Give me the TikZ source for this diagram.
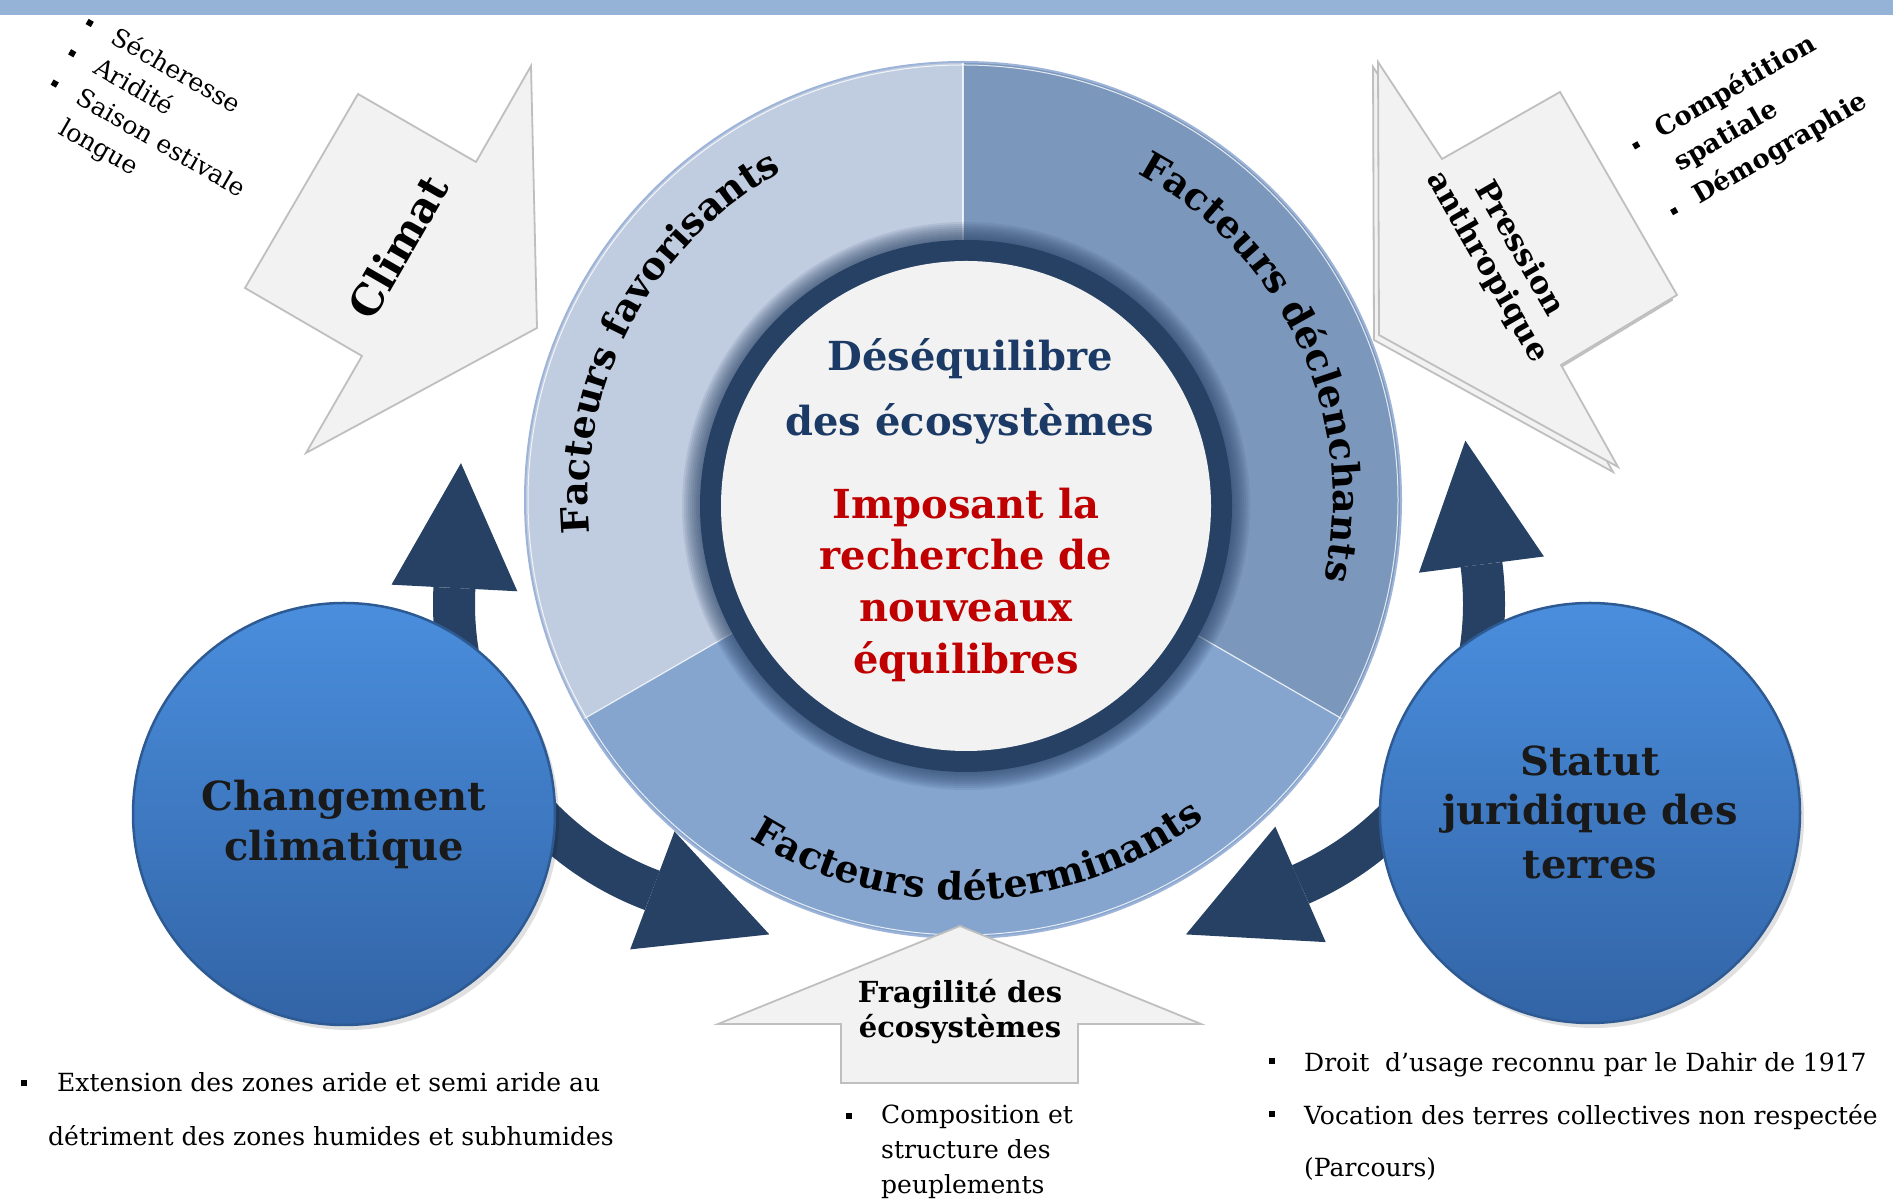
\documentclass[tikz,border=0pt]{standalone}
\usepackage{fontspec}
\setmainfont{DejaVu Serif}
\usetikzlibrary{calc,decorations.text}
\definecolor{topbar}{HTML}{95B3D7}
\definecolor{secA}{HTML}{C0CCE0}
\definecolor{secB}{HTML}{7B97BC}
\definecolor{secC}{HTML}{85A5CF}
\definecolor{ringnavy}{HTML}{264164}
\definecolor{lightgr}{HTML}{F2F2F2}
\definecolor{edgeblue}{HTML}{9DB4D8}
\definecolor{txtblue}{HTML}{1B3A66}
\definecolor{txtred}{HTML}{C00000}
\definecolor{balltop}{HTML}{4A8EDD}
\definecolor{ballbot}{HTML}{3264A6}
\definecolor{balledge}{HTML}{2E5A94}
\definecolor{grayline}{HTML}{BFBFBF}
\newcommand\fsz[2]{\fontsize{#1}{#2}\selectfont}
\newcommand\sqb{\rule{6pt}{6pt}}
\newcommand\sqr[1]{\rule[#1]{6pt}{6pt}}
\begin{document}
\begin{tikzpicture}[x=1pt,y=1pt,
  grayarrow/.style={fill=lightgr,draw=grayline,line width=1.8pt,line join=miter},
  navyfill/.style={fill=ringnavy},
  navyshaft/.style={draw=ringnavy,line width=42pt},
  ball/.style={circle,inner sep=0pt,top color=balltop,bottom color=ballbot,draw=balledge,line width=2.5pt},
  balltxt/.style={font=\bfseries\fsz{40}{48},text=black!90,anchor=base,inner sep=0pt},
  plain/.style={font=\fsz{25}{30},anchor=mid west,inner sep=0pt},
  sect/.style={decorate,decoration={text along path,text align=center,text={#1}}}
]
\useasboundingbox (0,0) rectangle (1893,1201);
\fill[white] (0,0) rectangle (1893,1201);
\fill[topbar] (0,1186) rectangle (1893,1201);

% ---------- Climat arrow ----------
\path[grayarrow] (358,1107) -- (476,1039) -- (531,1135) -- (537,873) -- (306,748) -- (362,845) -- (245,913) -- cycle;
\node[font=\bfseries\fsz{42}{48},rotate=60,inner sep=0pt] (climat) at (398,954) {Climat};
\node[rotate=-30,anchor=base west,inner sep=0pt,font=\fsz{25}{35}] (clist) at (83.7,1174)
  {\begin{tabular}[t]{@{}l@{\hspace{24pt}}l@{}}\sqr{3.5pt}&Sécheresse\\ \sqr{3.5pt}&Aridité\\ \sqr{3.5pt}&Saison estivale\\ &longue\end{tabular}};

% ---------- Pression arrow ----------
\path[grayarrow] (1373,1134) -- (1437,1037) -- (1555,1104) -- (1672,901) -- (1556,831) -- (1613,729) -- (1374,861) -- cycle;
\path[grayarrow] (1378,1139) -- (1442,1042) -- (1560,1109) -- (1677,906) -- (1561,836) -- (1618,734) -- (1379,866) -- cycle;
\node[font=\bfseries\fsz{31}{37},rotate=-60,align=center,inner sep=0pt] (press) at (1503,943) {Pression\\anthropique};
\node[rotate=30,anchor=base west,inner sep=0pt,font=\bfseries\fsz{26}{38}] (plist) at (1636.9,1048)
  {\begin{tabular}[t]{@{}l@{\hspace{22pt}}l@{}}\sqr{4pt}&Compétition\\ &spatiale\\ \sqr{4pt}&Démographie\end{tabular}};

% ---------- main circle ----------
\node[circle,minimum size=876pt,inner sep=0pt] (main) at (963,701) {};
\fill[secA] (main.center) -- ++(90:438) arc[start angle=90,end angle=210,radius=438pt] -- cycle;
\fill[secB] (main.center) -- ++(-30:438) arc[start angle=-30,end angle=90,radius=438pt] -- cycle;
\fill[secC] (main.center) -- ++(210:438) arc[start angle=210,end angle=330,radius=438pt] -- cycle;
\foreach \a in {90,210,330} \draw[white,line width=1.2pt,opacity=.8] (main.center) -- ++(\a:438);
\draw[edgeblue,line width=2pt] (main.center) circle[radius=438pt];
\draw[white,line width=1pt,opacity=.8] (main.center) circle[radius=435pt];

% sector labels
\path[sect={|\bfseries\fsz{38}{40}|Facteurs favorisants}] ($(main.center)+(212:375)$) arc[start angle=212,end angle=92,radius=375pt];
\path[sect={|\bfseries\fsz{38}{40}|Facteurs déclenchants}] ($(main.center)+(84.7:370)$) arc[start angle=84.7,end angle=-35.3,radius=370pt];
\path[sect={|\bfseries\fsz{38}{40}|Facteurs déterminants}] ($(main.center)+(212.5:400)$) arc[start angle=212.5,end angle=332.5,radius=400pt];

% inner ring
\coordinate (ic) at (966,695);
\foreach \r in {268,270,...,284} \fill[ringnavy,opacity=.1] (ic) circle[radius=\r pt];
\fill[ringnavy] (ic) circle[radius=266pt];
\node[circle,fill=lightgr,minimum size=490pt,inner sep=0pt] (core) at (ic) {};
\node[font=\bfseries\fsz{40}{48},text=txtblue,anchor=base,inner sep=0pt] (t1) at (970,830) {Déséquilibre};
\node[font=\bfseries\fsz{40}{48},text=txtblue,anchor=base,inner sep=0pt] (t2) at (970,765) {des écosystèmes};
\node[font=\bfseries\fsz{40}{48},text=txtred,anchor=base,inner sep=0pt] (t3) at (966,682) {Imposant la};
\node[font=\bfseries\fsz{40}{48},text=txtred,anchor=base,inner sep=0pt] (t4) at (966,631) {recherche de};
\node[font=\bfseries\fsz{40}{48},text=txtred,anchor=base,inner sep=0pt] (t5) at (966,579) {nouveaux};
\node[font=\bfseries\fsz{40}{48},text=txtred,anchor=base,inner sep=0pt] (t6) at (966,527.5) {équilibres};

% ---------- Fragilité arrow ----------
\path[grayarrow] (960,275) -- (1201,177) -- (1078,177) -- (1078,118) -- (841,118) -- (841,177) -- (718,177) -- cycle;
\node[font=\bfseries\fsz{29}{35},align=center,inner sep=0pt] (frag) at (960,189) {Fragilité des\\écosystèmes};

% ---------- navy curved arrows ----------
\coordinate (CL) at (760,597);
\coordinate (CR) at (1178,597);
\draw[navyshaft] ($(CL)+(177:306)$) arc[start angle=177,end angle=249.4,radius=306pt];
\fill[navyfill] ($(CL)+(177:243)$) -- ($(CL)+(177:369)$) -- ($(CL)+(177:306)+(87:125)$) -- cycle;
\fill[navyfill] ($(CL)+(249.4:243)$) -- ($(CL)+(249.4:369)$) -- ($(CL)+(249.4:306)+(339.4:125)$) -- cycle;
\draw[navyshaft] ($(CR)+(7.4:306)$) arc[start angle=7.4,end angle=-66.4,radius=306pt];
\fill[navyfill] ($(CR)+(7.4:243)$) -- ($(CR)+(7.4:369)$) -- ($(CR)+(7.4:306)+(97.4:125)$) -- cycle;
\fill[navyfill] ($(CR)+(-66.4:243)$) -- ($(CR)+(-66.4:369)$) -- ($(CR)+(-66.4:306)+(-156.4:125)$) -- cycle;

% ---------- blue balls ----------
\fill[black,opacity=.12] (348,382) circle[radius=211pt];
\fill[black,opacity=.12] (1594,383) circle[radius=210pt];
\node[ball,minimum size=422pt] (cc) at (344,387) {};
\node[ball,minimum size=420pt] (sj) at (1590,388) {};
\node[balltxt] (cc1) at (344,390) {Changement};
\node[balltxt] (cc2) at (344,340) {climatique};
\node[balltxt] (sj1) at (1590,425) {Statut};
\node[balltxt] (sj2) at (1590,376) {juridique des};
\node[balltxt] (sj3) at (1590,322.3) {terres};

% ---------- bottom texts ----------
\node[inner sep=0pt] (b6) at (24,118) {\sqb};
\node[plain] (e1) at (57,112) {Extension des zones aride et semi aride au};
\node[plain] (e2) at (48,58) {détriment des zones humides et subhumides};
\node[inner sep=0pt] (b7) at (849,85) {\sqb};
\node[plain,align=left,anchor=north west,font=\fsz{25}{35}] (comp) at (881,96) {Composition et\\structure des\\peuplements};
\node[inner sep=0pt] (b8) at (1272,140) {\sqb};
\node[inner sep=0pt] (b9) at (1272,87) {\sqb};
\node[plain] (d1) at (1304,132) {Droit\ \ d’usage reconnu par le Dahir de 1917};
\node[plain] (d2) at (1304,79) {Vocation des terres collectives non respectée};
\node[plain] (d3) at (1304,27) {(Parcours)};
\end{tikzpicture}
\end{document}
